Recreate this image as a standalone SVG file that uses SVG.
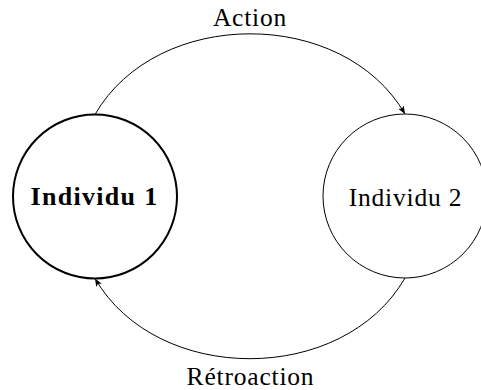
<svg xmlns="http://www.w3.org/2000/svg" width="481" height="390" viewBox="0 0 481 390">
<style>
.lbl{font-family:"Liberation Serif","DejaVu Serif",serif;font-size:25.5px;fill:#000;text-anchor:middle;letter-spacing:0.8px}
.bold{font-weight:bold;font-size:26px;letter-spacing:1.3px}
.edge{fill:none;stroke:#000;stroke-width:1}
</style>
<defs>
<marker id="arr" markerUnits="userSpaceOnUse" markerWidth="10" markerHeight="8" viewBox="0 -4 10 8" refX="8" refY="0" orient="auto">
<path d="M0,-3.2 L8,0 L0,3.2 L2,0 z" fill="#000"/>
</marker>
</defs>
<rect width="481" height="390" fill="#fff"/>
<g id="connectors">
<g id="action">
<path class="edge" d="M95,114.5 C157,7 343,7 405,114" marker-end="url(#arr)"/>
<text class="lbl" x="250" y="26">Action</text>
</g>
<g id="retroaction">
<path class="edge" d="M405,278 C343,385.5 157,385.5 95,278.5" marker-end="url(#arr)"/>
<text class="lbl" x="250.5" y="385">Rétroaction</text>
</g>
</g>
<g id="individu1">
<circle cx="95" cy="196.5" r="82" fill="none" stroke="#000" stroke-width="2"/>
<text class="lbl bold" x="94.5" y="205">Individu 1</text>
</g>
<g id="individu2">
<circle cx="405" cy="196" r="82" fill="none" stroke="#000" stroke-width="1"/>
<text class="lbl" x="405.5" y="206">Individu 2</text>
</g>
</svg>
